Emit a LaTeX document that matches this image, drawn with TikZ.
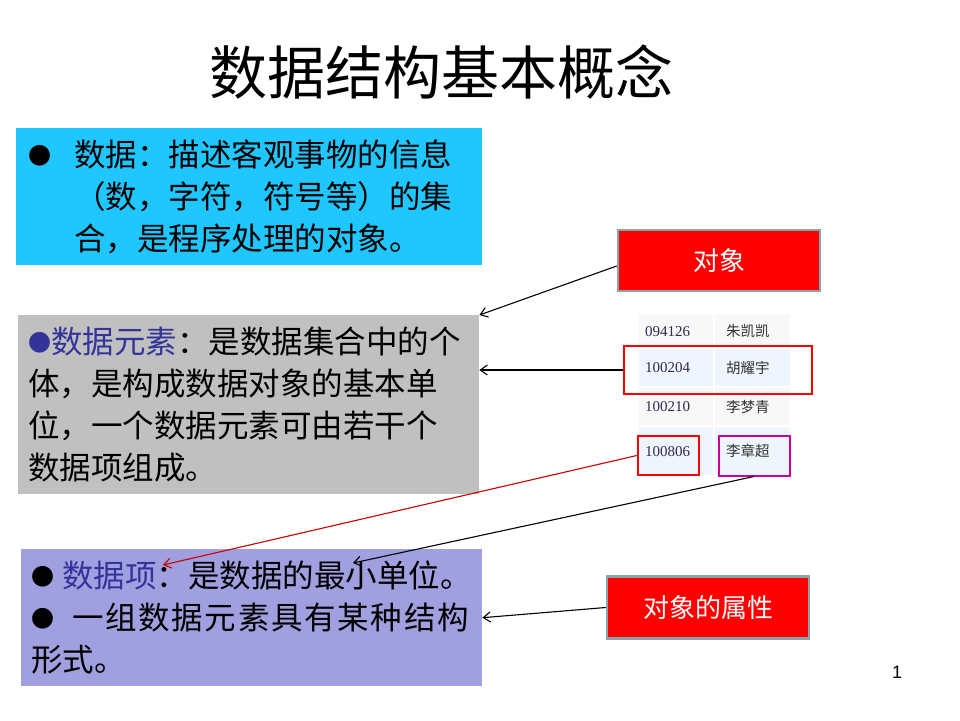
\documentclass[tikz,border=0pt]{standalone}
\usepackage{fontspec}
\setmainfont{Liberation Sans}
\newfontfamily\cjk{Noto Sans CJK SC}
\newfontfamily\numfont{Liberation Serif}
\usetikzlibrary{arrows.meta}

\definecolor{datacyan}{RGB}{32,199,255}
\definecolor{elemgray}{RGB}{192,192,192}
\definecolor{itemblue}{RGB}{160,160,224}
\definecolor{termblue}{RGB}{51,51,153}
\definecolor{boxedge}{RGB}{140,163,168}
\definecolor{rowgray}{RGB}{248,248,248}
\definecolor{rowblue}{RGB}{238,245,252}
\definecolor{namepink}{RGB}{204,0,153}
\definecolor{numink}{RGB}{50,40,80}
\definecolor{linkred}{RGB}{200,0,0}

% smaller bullet for the text boxes
\newcommand{\itemdot}{\raisebox{2pt}{\fontsize{23}{42}\selectfont ●}}

\begin{document}
\begin{tikzpicture}[x=1pt,y=-1pt,
    textbox/.style={anchor=north west,inner xsep=10pt,inner ysep=0pt,align=left,
        font=\cjk\fontsize{31.5}{42}\selectfont},
    tagbox/.style={fill=red,draw=boxedge,line width=2.5pt,text=white,
        font=\cjk\fontsize{26}{30}\selectfont},
    numcell/.style={anchor=north west,inner xsep=6pt,inner ysep=0pt,minimum width=74pt,
        text width=62pt,text=numink,font=\numfont\fontsize{15}{18}\selectfont},
    namecell/.style={anchor=north west,inner xsep=11pt,inner ysep=0pt,minimum width=75pt,
        text width=53pt,text=black!80,font=\cjk\fontsize{14.5}{18}\selectfont},
    hilite/.style={draw=red,line width=2.5pt},
    link/.style={-{Straight Barb[length=7pt,width=10pt]},line width=1.1pt}
]
        \useasboundingbox (0,0) rectangle (960,720);

        % title
        \node[font=\cjk\fontsize{58}{60}\selectfont] (title) at (441,72) {数据结构基本概念};

        % three text boxes
        \node[textbox,fill=datacyan,inner xsep=12pt,minimum width=466pt,text width=442pt,minimum height=137pt]
            (databox) at (16,128)
            {\makebox[46pt][l]{\itemdot}数据：描述客观事物的信息\\
             \hspace*{46pt}（数，字符，符号等）的集\\
             \hspace*{46pt}合，是程序处理的对象。};
        \node[textbox,fill=elemgray,minimum width=461pt,text width=441pt,minimum height=179pt]
            (elembox) at (18,315)
            {{\color{termblue}\itemdot 数据元素}：是数据集合中的个\\
             体，是构成数据对象的基本单\\
             位，一个数据元素可由若干个\\
             数据项组成。};
        \node[textbox,fill=itemblue,minimum width=461pt,text width=441pt,minimum height=137pt]
            (itembox) at (21,549)
            {\itemdot\hspace*{8pt}{\color{termblue}数据项}：是数据的最小单位。\\
             \itemdot\hspace*{18pt}{\addfontfeature{LetterSpace=5.4}一组数据元素具有某种结构}\\
             形式。};

        % tags
        \node[tagbox,minimum width=202pt,minimum height=61pt] (obj)  at (719,260.5) {对象};
        \node[tagbox,minimum width=202pt,minimum height=62pt] (attr) at (708,607.5) {对象的属性};

        % table
        \node[numcell,fill=rowgray,minimum height=32pt]  (c11) at (639,315) {094126};
        \node[namecell,fill=rowgray,minimum height=32pt] (c12) at (715,315) {朱凯凯};
        \node[numcell,fill=rowblue,minimum height=37pt]  (c21) at (639,349) {100204};
        \node[namecell,fill=rowblue,minimum height=37pt] (c22) at (715,349) {胡耀宇};
        \node[numcell,fill=rowgray,minimum height=37pt]  (c31) at (639,388) {100210};
        \node[namecell,fill=rowgray,minimum height=37pt] (c32) at (715,388) {李梦青};
        \node[numcell,fill=rowblue,minimum height=48pt]  (c41) at (639,427) {100806};
        \node[namecell,fill=rowblue,minimum height=48pt] (c42) at (715,427) {李章超};

        % highlights
        \node[hilite,minimum width=188pt,minimum height=48pt] (hlrow)  at (718,370) {};
        \node[hilite,minimum width=61pt,minimum height=39pt]  (hlid)   at (668.5,455.5) {};
        \node[hilite,draw=namepink,line width=2pt,minimum width=71pt,minimum height=40pt]
            (hlname) at (754,455.5) {};

        \coordinate (itemtip) at (163,565);
        \coordinate (unittip) at (353,563);

        % connectors
        \draw[link] ([yshift=-5.5pt]obj.west) -- (elembox.north east);
        \draw[link] (hlrow.west) -- (hlrow.west -| elembox.east);
        \draw[link,linkred] (hlid.west) -- (itemtip);
        \draw[link] (hlname.south) -- (unittip);
        \draw[link] (attr.west) -- (itembox.east);

        \node[font=\fontsize{18}{20}\selectfont] (pagenum) at (897,672) {1};
    \end{tikzpicture}
\end{document}
